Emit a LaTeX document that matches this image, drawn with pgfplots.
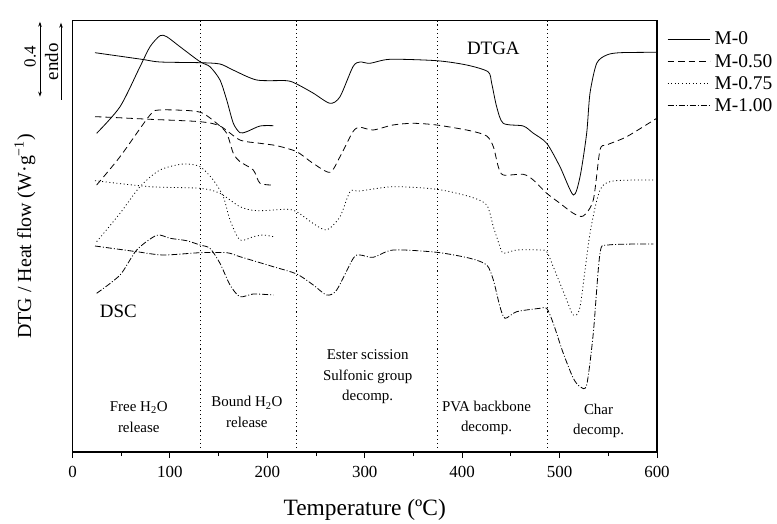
\documentclass[border=0pt]{standalone}
\usepackage{fontspec}
\setmainfont{Liberation Serif}
\usepackage{pgfplots}
\pgfplotsset{compat=1.18}
\usetikzlibrary{arrows.meta}
\begin{document}
\begin{tikzpicture}
\path[use as bounding box] (-72.5bp,-72bp) rectangle (704.5bp,452bp);
\begin{axis}[
  scale only axis, width=584.5bp, height=431.3bp,
  xmin=0, xmax=600, ymin=0, ymax=431.3,
  axis line style={line width=1.1bp},
  xtick={0,100,...,600}, minor x tick num=1, xtick pos=bottom, ytick=\empty,
  tick align=outside, major tick length=6bp, minor tick length=4bp,
  tick style={line width=0.9bp, black},
  /pgf/number format/assume math mode=true,
  xticklabel style={font=\fontsize{17}{17}\selectfont, yshift=-5bp},
  xlabel={Temperature (ºC)},
  xlabel style={font=\fontsize{23.5}{23.5}\selectfont, at={(axis description cs:0.5,-0.135)}, anchor=center},
  ylabel={DTG / Heat flow (W\textperiodcentered g\textsuperscript{−1})},
  ylabel style={font=\fontsize{20}{20}\selectfont, at={(axis description cs:-0.0813,0.5)}, anchor=center},
  clip=false,
  legend style={draw=none, fill=none, at={(1.0171,0.978)}, anchor=north west,
    font=\fontsize{19.5}{19.5}\selectfont, inner sep=0pt, row sep=4.8bp,
    nodes={inner sep=1.5bp}},
  legend cell align=left,
  legend image code/.code={\draw[#1, line width=0.9bp] (0bp,0bp) -- (42bp,0bp); \path (45bp,0bp);},
  every axis plot/.append style={line width=0.8bp, black, smooth, tension=0.45},
]
% ---- M-0 (solid) DTG
\addplot[solid] coordinates {
(23.1,399.3) (71.0,392.7) (89.8,390) (130.9,389.3) (151.4,388) (164.8,382) (189.1,372)
(219.9,371.3) (230.1,368) (246.9,359) (264.3,348.7) (274.6,355.3) (287.9,385.3) (295.1,390)
(305.4,388.7) (325.9,392.7) (373.9,391.3) (404.6,387) (426.5,380.3) (430.3,368.7) (435.4,345.3)
(442.2,328.7) (462.7,326) (472.7,319) (486.8,308.7) (500.4,285.3) (514.1,257) (521.0,275.3)
(527.8,318.7) (531.2,358.7) (538.1,388.7) (548.4,397) (562.0,399.3) (599.7,399.7)};
\addlegendentry{M-0}
% ---- M-0.50 (dashed) DTG
\addplot[dash pattern=on 6.5bp off 4bp] coordinates {
(23.1,335.3) (38.5,334.7) (79.6,332.7) (130.9,330.3) (151.4,326) (171.9,312) (192.5,308.7)
(209.6,306.3) (230.1,300.3) (246.9,288.7) (264.3,279.7) (274.6,295.3) (287.9,320.3) (295.1,324.7)
(308.5,322) (329.0,327) (349.5,328.7) (373.9,327) (408.0,321.3) (425.2,316) (432.0,305.3)
(437.1,285.3) (442.2,277) (462.7,277.7) (473.0,272) (486.8,258.7) (500.4,248.7) (514.1,238.7)
(524.3,236) (534.6,252) (541.5,302) (548.4,307) (568.9,315.3) (599.7,333.7)};
\addlegendentry{M-0.50}
% ---- M-0.75 (dotted) DTG
\addplot[dash pattern=on 1bp off 2.6bp] coordinates {
(23.1,271.3) (79.6,265.3) (130.9,263.7) (151.4,258.7) (171.9,245.3) (189.1,241.3) (219.9,242.7)
(230.1,240.3) (246.9,228.7) (260.9,222) (274.6,235.3) (284.9,260.3) (295.1,261) (329.3,265.3)
(373.9,262.7) (408.0,255.3) (425.2,247) (432.0,225.3) (438.8,205.3) (442.2,198.7) (456.0,202)
(479.9,202) (486.8,200.3) (493.5,185.3) (507.3,152) (514.1,137) (521.0,145.3) (531.2,218.7)
(541.5,262) (555.1,271) (596.2,272)};
\addlegendentry{M-0.75}
% ---- M-1.00 (dash-dot) DTG
\addplot[dash pattern=on 6bp off 2bp on 1bp off 2bp] coordinates {
(23.1,206) (65.9,200.3) (93.2,197) (130.9,199.3) (158.3,199.3) (171.9,195.3) (206.1,185.3)
(230.1,178) (247.2,167) (260.9,157) (271.2,162) (288.2,193.7) (295.1,197) (308.8,194.7)
(329.3,202) (373.9,199.7) (408.0,193.7) (425.2,187) (432.0,172) (438.8,145.3) (444.0,133.7)
(456.0,140.3) (479.9,143.7) (486.8,143.7) (493.5,128.7) (503.8,98.7) (514.1,73.7) (521.0,65.3)
(527.8,67) (534.6,118.7) (541.5,198.7) (550.0,207) (596.2,208)};
\addlegendentry{M-1.00}
% ---- DSC curves
\addplot[solid, forget plot] coordinates {
(24.8,318.7) (48.8,345.3) (69.3,385.3) (79.6,405.3) (89.8,416.3) (96.7,415.3) (110.3,405.3)
(130.9,390.3) (141.1,385.3) (151.4,372) (158.3,352) (165.1,328.7) (171.9,319.3) (178.8,320.3)
(192.5,326) (206.1,326.3)};
\addplot[dash pattern=on 6.5bp off 4bp, forget plot] coordinates {
(24.8,267) (48.8,295.3) (79.6,337) (89.8,342) (120.6,341.3) (134.0,338.7) (148.0,328.7)
(158.3,318.7) (165.1,298.7) (171.9,290.3) (185.6,282) (192.5,268.7) (206.1,267)};
\addplot[dash pattern=on 1bp off 2.6bp, forget plot] coordinates {
(24.8,210.3) (48.8,238.7) (69.3,265.3) (89.8,282) (113.7,288) (130.9,285.3) (144.5,272)
(154.8,255.3) (161.7,232) (171.9,212) (185.6,215.3) (195.9,217) (206.1,215.3)};
\addplot[dash pattern=on 6bp off 2bp on 1bp off 2bp, forget plot] coordinates {
(24.8,158.7) (48.8,177) (65.9,202) (86.4,216.7) (100.1,213.7) (117.2,211.3) (130.9,207)
(141.1,203.7) (151.4,188.7) (161.7,167) (171.9,155.3) (185.6,158) (206.1,157)};
% ---- region separators
\foreach \xv in {131,230,374.5,488}{
  \edef\tmp{\noexpand\draw[line width=1.1bp, dash pattern=on 1.1bp off 3bp] (axis cs:\xv,0) -- (axis cs:\xv,431.3);}\tmp
}
% ---- labels
\node[font=\fontsize{19}{19}\selectfont] at (axis cs:432,403.7) {DTGA};
\node[font=\fontsize{19}{19}\selectfont] at (axis cs:47,140.3) {DSC};
\begin{scope}[every node/.style={font=\fontsize{15}{20.5}\selectfont, align=center}]
\node at (axis cs:68,35) {Free H\textsubscript{2}O\\release};
\node at (axis cs:179,40) {Bound H\textsubscript{2}O\\release};
\node at (axis cs:303,75) {Ester scission\\Sulfonic group\\decomp.};
\node at (axis cs:425,34) {PVA backbone\\decomp.};
\node at (axis cs:540,31) {Char\\decomp.};
\end{scope}
% ---- scale bar
\draw[line width=0.8bp, {Stealth[length=5bp,width=3.5bp]}-{Stealth[length=5bp,width=3.5bp]}] (axis cs:-33.4,355.3) -- (axis cs:-33.4,430.3);
\draw[line width=0.8bp, -{Stealth[length=5bp,width=3.5bp]}] (axis cs:-11.8,352) -- (axis cs:-11.8,429.3);
\node[rotate=90, font=\fontsize{17}{17}\selectfont] at (axis cs:-43.6,395.3) {0.4};
\node[rotate=90, font=\fontsize{19}{19}\selectfont] at (axis cs:-21.5,390.3) {endo};
\end{axis}
\end{tikzpicture}
\end{document}
